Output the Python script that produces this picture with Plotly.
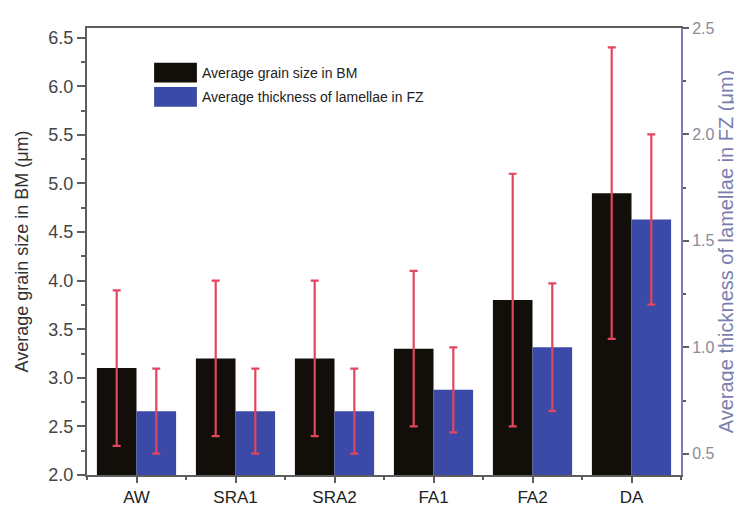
import plotly.graph_objects as go

categories = ["AW", "SRA1", "SRA2", "FA1", "FA2", "DA"]
grain_size = [3.1, 3.2, 3.2, 3.3, 3.8, 4.9]
grain_err = [0.8, 0.8, 0.8, 0.8, 1.3, 1.5]
lamellae = [0.7, 0.7, 0.7, 0.8, 1.0, 1.6]
lamellae_err = [0.2, 0.2, 0.2, 0.2, 0.3, 0.4]

x_pos = list(range(len(categories)))

FONT = "Liberation Sans, Arial, sans-serif"
BLACK = "#120e0a"
BLUE = "#3b4aa6"
ERR = "#e2455e"
AXIS = "#5e5e5e"
RIGHT = "#7a7eae"

fig = go.Figure()

fig.add_trace(go.Bar(
    x=x_pos, y=grain_size, name="Average grain size in BM",
    width=0.4, offset=-0.4,
    marker=dict(color=BLACK, line=dict(width=0)),
    error_y=dict(type="data", array=grain_err, color=ERR, thickness=2.2, width=4),
))
fig.add_trace(go.Bar(
    x=x_pos, y=lamellae, name="Average thickness of lamellae in FZ",
    width=0.4, offset=0, yaxis="y2",
    marker=dict(color=BLUE, line=dict(width=0)),
    error_y=dict(type="data", array=lamellae_err, color=ERR, thickness=2.2, width=4),
))

# legend drawn by hand to get the wide colour boxes
legend_items = [("Average grain size in BM", BLACK, 0.9),
                ("Average thickness of lamellae in FZ", BLUE, 0.846)]
for text, col, yc in legend_items:
    fig.add_shape(type="rect", xref="paper", yref="paper",
                  x0=0.113, x1=0.185, y0=yc - 0.022, y1=yc + 0.022,
                  fillcolor=col, line=dict(width=0))
    fig.add_annotation(xref="paper", yref="paper", x=0.19, y=yc, text=text,
                       showarrow=False, xanchor="left", yanchor="middle",
                       font=dict(family=FONT, size=14, color="#222"))

fig.update_layout(
    width=742, height=511,
    margin=dict(l=79, r=69, t=15, b=36),
    paper_bgcolor="white", plot_bgcolor="white",
    showlegend=False,
    font=dict(family=FONT, color="#333"),
    xaxis=dict(
        range=[-0.5, 5.5], tickmode="array", tickvals=x_pos, ticktext=categories,
        showline=True, linecolor=AXIS, linewidth=2, mirror=True,
        ticks="outside", ticklen=6, tickcolor=AXIS, tickwidth=1.5,
        minor=dict(tickmode="linear", tick0=0, dtick=0.5, ticks="outside",
                   ticklen=3, tickcolor=AXIS),
        showgrid=False, zeroline=False,
        tickfont=dict(size=17, color="#222"),
    ),
    yaxis=dict(
        range=[2.0, 6.6], tickmode="linear", tick0=2.0, dtick=0.5, tickformat=".1f",
        showline=True, linecolor=AXIS, linewidth=2,
        ticks="outside", ticklen=8, tickcolor=AXIS, tickwidth=1.5,
        minor=dict(tickmode="linear", tick0=2.0, dtick=0.25, ticks="outside",
                   ticklen=4, tickcolor=AXIS),
        showgrid=False, zeroline=False,
        tickfont=dict(size=18, color="#444"),
        title=dict(text="Average grain size in BM (μm)", standoff=15,
                   font=dict(size=18, color="#333")),
    ),
    yaxis2=dict(
        overlaying="y", side="right",
        range=[0.4, 2.5], tickmode="linear", tick0=0.5, dtick=0.5, tickformat=".1f",
        showline=True, linecolor=RIGHT, linewidth=2,
        ticks="outside", ticklen=6, tickcolor=AXIS, tickwidth=1.5,
        minor=dict(tickmode="linear", tick0=0.5, dtick=0.25, ticks="outside",
                   ticklen=3, tickcolor=AXIS),
        showgrid=False, zeroline=False,
        tickfont=dict(size=16, color="#8a8a9a"),
        title=dict(text="Average thickness of lamellae in FZ (μm)", standoff=1,
                   font=dict(size=20, color=RIGHT)),
    ),
)

fig.write_html("out.html")
